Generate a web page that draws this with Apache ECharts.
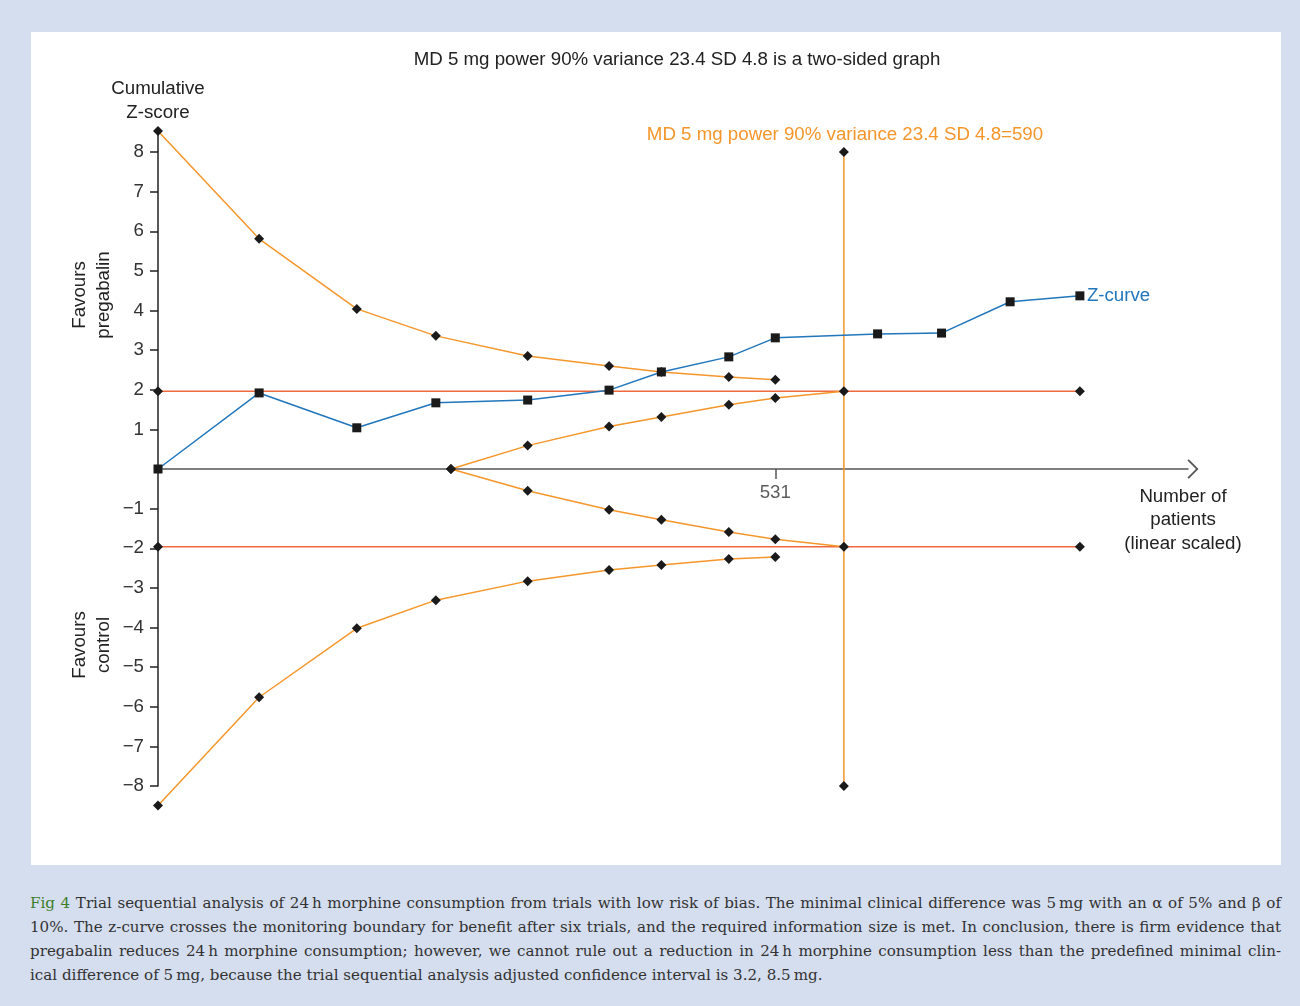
<!DOCTYPE html>
<html>
<head>
<meta charset="utf-8">
<title>Trial sequential analysis</title>
<script src="https://cdn.jsdelivr.net/npm/echarts@6/dist/echarts.min.js"></script>
<style>
  html, body { margin: 0; padding: 0; }
  body { width: 1300px; height: 1006px; background: #d5deef; position: relative; overflow: hidden; }
  .panel { position: absolute; left: 31px; top: 32px; width: 1250px; height: 833px; background: #fff; }
  #chart { position: absolute; left: 0; top: 0; width: 1300px; height: 870px; }
  .caption { position: absolute; left: 30px; top: 891px; width: 1251px;
    font-family: "DejaVu Serif", serif; font-size: 15.1px; line-height: 24px; color: #333; }
  .caption div { text-align: justify; text-align-last: justify; }
  .caption div.last { text-align-last: left; }
  .caption b { font-weight: normal; color: #3e7e2c; }
</style>
</head>
<body>
<div class="panel"></div>
<div id="chart"></div>
<div class="caption">
  <div><b>Fig 4</b> Trial sequential analysis of 24&#8201;h morphine consumption from trials with low risk of bias. The minimal clinical difference was 5&#8201;mg with an α of 5% and β of</div>
  <div>10%. The z-curve crosses the monitoring boundary for benefit after six trials, and the required information size is met. In conclusion, there is firm evidence that</div>
  <div>pregabalin reduces 24&#8201;h morphine consumption; however, we cannot rule out a reduction in 24&#8201;h morphine consumption less than the predefined minimal clin-</div>
  <div class="last">ical difference of 5&#8201;mg, because the trial sequential analysis adjusted confidence interval is 3.2, 8.5&#8201;mg.</div>
</div>
<script>
// cumulative number of patients at each trial and the z-curve
var zPatients = [0, 87, 171, 239, 318, 388, 433, 491, 531, 619, 674, 733, 793];
var zScore = [0, 1.92, 1.04, 1.67, 1.74, 1.99, 2.45, 2.83, 3.31, 3.41, 3.43, 4.22, 4.37];

// monitoring boundaries (benefit / harm)
var boundPatients = [0, 87, 171, 239, 318, 388, 433, 491, 531];
var boundUpper = [8.53, 5.81, 4.04, 3.36, 2.85, 2.6, 2.45, 2.32, 2.25];
var boundLower = [-8.49, -5.76, -4.02, -3.31, -2.83, -2.55, -2.42, -2.27, -2.22];

// futility boundaries
var futPatients = [252, 318, 388, 433, 491, 531, 590];
var futUpper = [0, 0.59, 1.07, 1.31, 1.62, 1.79, 1.96];
var futLower = [0, -0.55, -1.03, -1.28, -1.59, -1.77, -1.96];

// conventional boundaries and required information size
var convPatients = [0, 793];
var convZ = 1.96;
var risPatients = 590;
var risZ = [-8, 8];

var yRange = [-8, 8];
var yTickValues = [-8, -7, -6, -5, -4, -3, -2, -1, 1, 2, 3, 4, 5, 6, 7, 8];
var xTickValues = [531];
var xMax = 886;
var yAxisTop = 8.55;

var orange = "#f5962b";
var red = "#ee6a3e";
var blue = "#2176bc";
var dark = "#1a1a1a";
var font = "Liberation Sans, Arial, sans-serif";
var fontSize = 18.7;

function zip(xs, ys) {
  return xs.map(function(x, i) {
    return [x, ys[i]];
  });
}

function minus(v) {
  return v < 0 ? "\u2212" + Math.abs(v) : String(v);
}

function text(str, x, y, opts) {
  var el = {
    type: "text",
    x: x,
    y: y,
    style: {
      text: str,
      fill: "#222",
      font: fontSize + "px " + font,
      align: "center",
      verticalAlign: "middle",
      lineHeight: 23.5,
    },
  };
  if (opts) {
    if (opts.fill) el.style.fill = opts.fill;
    if (opts.rotation) el.rotation = opts.rotation;
  }
  return el;
}

var chart = echarts.init(document.getElementById("chart"), null, { renderer: "canvas" });

function boundSeries(name, data, color) {
  return {
    name: name,
    type: "line",
    data: data,
    clip: false,
    symbol: "diamond",
    symbolSize: 10,
    itemStyle: { color: dark },
    lineStyle: { color: color, width: 1.5 },
    emphasis: { disabled: true },
    z: 3,
  };
}

var option = {
  backgroundColor: "transparent",
  animation: false,
  textStyle: { fontFamily: font },
  grid: {
    left: 158,
    right: 1300 - 1188,
    top: 152,
    bottom: 870 - 786,
  },
  xAxis: {
    type: "value",
    min: 0,
    max: xMax,
    splitLine: { show: false },
    axisLine: {
      show: true,
      onZero: true,
      // open chevron at the end of the axis
      symbol: ["none", "path://M0,10L10,0L20,10L18.7,11.3L10,2.6L1.3,11.3Z"],
      symbolSize: [20, 11],
      symbolOffset: [0, 5],
      lineStyle: { color: "#555", width: 1.5 },
    },
    axisTick: {
      show: true,
      customValues: xTickValues,
      length: 10,
      lineStyle: { color: "#555", width: 1.5 },
    },
    axisLabel: { show: false },
  },
  yAxis: {
    type: "value",
    min: yRange[0],
    max: yRange[1],
    interval: 1,
    splitLine: { show: false },
    axisLine: { show: true, lineStyle: { color: "#222", width: 1.5 } },
    axisTick: {
      show: true,
      customValues: yTickValues,
      length: 8,
      lineStyle: { color: "#222", width: 1.5 },
    },
    axisLabel: {
      customValues: yTickValues,
      color: "#333",
      fontSize: fontSize,
      fontFamily: font,
      margin: 14,
      formatter: function(v) {
        return minus(v);
      },
    },
  },
  graphic: [
    text("MD 5 mg power 90% variance 23.4 SD 4.8 is a two-sided graph", 677, 60),
    text("Cumulative\nZ-score", 158, 101),
    text("Favours\npregabalin", 92, 295, { rotation: Math.PI / 2 }),
    text("Favours\ncontrol", 92, 645, { rotation: Math.PI / 2 }),
    text("MD 5 mg power 90% variance 23.4 SD 4.8=590", 845, 135, { fill: orange }),
    text("Number of\npatients\n(linear scaled)", 1183, 520),
  ],
  series: [
    {
      // extends the y axis line up to the first boundary point
      name: "axis",
      type: "line",
      data: [
        [0, yRange[1]],
        [0, yAxisTop],
      ],
      clip: false,
      symbol: "none",
      lineStyle: { color: "#222", width: 1.5 },
      silent: true,
      z: 1,
    },
    {
      // x tick label sitting under the axis line at z = 0
      name: "x tick labels",
      type: "scatter",
      data: xTickValues.map(function(x) { return [x, 0]; }),
      symbolSize: 0,
      silent: true,
      label: {
        show: true,
        position: "bottom",
        distance: 14,
        formatter: function(p) { return String(p.value[0]); },
        color: "#333",
        fontSize: fontSize,
        fontFamily: font,
      },
    },
    {
      name: "conventional upper",
      type: "line",
      data: convPatients.map(function(x) { return [x, convZ]; }),
      symbol: "diamond",
      symbolSize: 10,
      itemStyle: { color: dark },
      lineStyle: { color: red, width: 1.5 },
      z: 2,
    },
    {
      name: "conventional lower",
      type: "line",
      data: convPatients.map(function(x) { return [x, -convZ]; }),
      symbol: "diamond",
      symbolSize: 10,
      itemStyle: { color: dark },
      lineStyle: { color: red, width: 1.5 },
      z: 2,
    },
    {
      name: "RIS",
      type: "line",
      data: risZ.map(function(z) { return [risPatients, z]; }),
      symbol: "diamond",
      symbolSize: 10,
      itemStyle: { color: dark },
      lineStyle: { color: orange, width: 1.5 },
      z: 2,
    },
    boundSeries("benefit", zip(boundPatients, boundUpper), orange),
    boundSeries("harm", zip(boundPatients, boundLower), orange),
    boundSeries("futility upper", zip(futPatients, futUpper), orange),
    boundSeries("futility lower", zip(futPatients, futLower), orange),
    {
      name: "Z-curve",
      type: "line",
      data: zip(zPatients, zScore),
      clip: false,
      symbol: "rect",
      symbolSize: 9,
      itemStyle: { color: dark },
      lineStyle: { color: blue, width: 1.5 },
      endLabel: {
        show: true,
        formatter: "Z-curve",
        color: blue,
        fontSize: fontSize,
        fontFamily: font,
        distance: 7,
      },
      z: 4,
    },
  ],
};

chart.setOption(option);
</script>
</body>
</html>
